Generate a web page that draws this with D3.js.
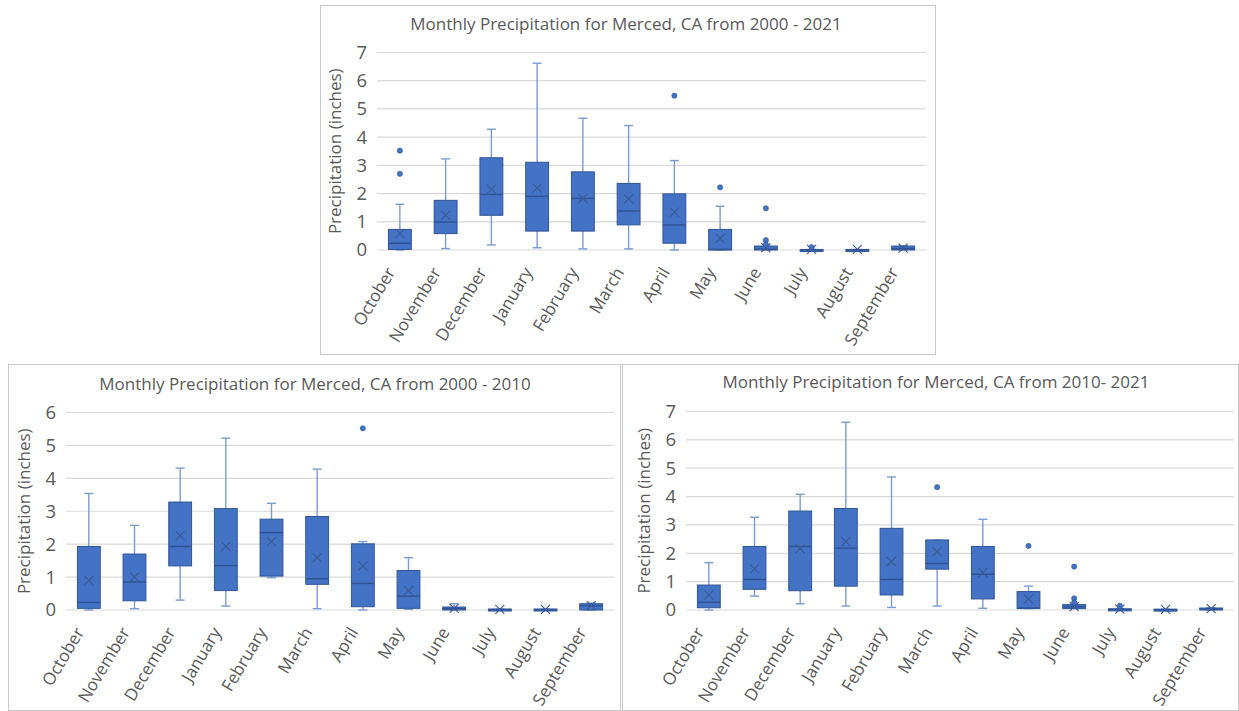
<!DOCTYPE html>
<html>
<head>
<meta charset="utf-8">
<script src="https://cdn.jsdelivr.net/npm/d3@7"></script>
<style>
  body { margin: 0; background: #fff; }
  text { font-family: "Open Sans", sans-serif; fill: #595959; }
</style>
</head>
<body>
<svg id="chart" width="1239" height="711"></svg>
<script>
const months = ["October", "November", "December", "January", "February", "March",
                "April", "May", "June", "July", "August", "September"];

// each row: [lower whisker, q1, median, q3, upper whisker, mean]
const stats_2000_2021 = [
  [0, 0.02, 0.24, 0.73, 1.62, 0.59],
  [0.05, 0.58, 0.99, 1.76, 3.23, 1.24],
  [0.18, 1.23, 1.97, 3.27, 4.28, 2.15],
  [0.08, 0.67, 1.90, 3.11, 6.62, 2.19],
  [0.04, 0.67, 1.83, 2.77, 4.67, 1.83],
  [0.04, 0.89, 1.38, 2.36, 4.41, 1.81],
  [0, 0.24, 0.89, 1.99, 3.17, 1.34],
  [0, 0, 0.02, 0.73, 1.55, 0.41],
  [0, 0, 0.03, 0.14, 0.14, 0.08],
  [0, 0, 0, 0.02, 0.02, 0.02],
  [0, 0, 0, 0.02, 0.02, 0.02],
  [0, 0, 0.05, 0.14, 0.15, 0.07]
];
const outliers_2000_2021 = [[2.7, 3.52], [], [], [], [], [], [5.47], [2.22], [1.48, 0.35, 0.2], [0.1], [], []];

const stats_2000_2010 = [
  [0, 0.05, 0.23, 1.93, 3.54, 0.90],
  [0.04, 0.28, 0.85, 1.70, 2.57, 1.00],
  [0.30, 1.34, 1.93, 3.28, 4.31, 2.26],
  [0.12, 0.59, 1.35, 3.08, 5.22, 1.93],
  [0.98, 1.03, 2.35, 2.76, 3.24, 2.08],
  [0.04, 0.78, 0.95, 2.84, 4.28, 1.59],
  [0, 0.10, 0.81, 2.01, 2.08, 1.34],
  [0.02, 0.05, 0.42, 1.20, 1.59, 0.59],
  [0, 0, 0.04, 0.09, 0.19, 0.05],
  [0, 0, 0.01, 0.03, 0.03, 0.02],
  [0, 0, 0.01, 0.03, 0.03, 0.02],
  [0, 0, 0.13, 0.19, 0.21, 0.13]
];
const outliers_2000_2010 = [[], [], [], [], [], [], [5.52], [], [], [], [], []];

const stats_2010_2021 = [
  [0, 0.08, 0.27, 0.88, 1.67, 0.53],
  [0.49, 0.73, 1.08, 2.24, 3.27, 1.45],
  [0.22, 0.68, 2.24, 3.49, 4.08, 2.16],
  [0.14, 0.84, 2.18, 3.58, 6.62, 2.41],
  [0.09, 0.53, 1.08, 2.88, 4.69, 1.71],
  [0.14, 1.44, 1.64, 2.47, 2.47, 2.06],
  [0.06, 0.39, 1.26, 2.24, 3.20, 1.33],
  [0.05, 0.05, 0.07, 0.65, 0.84, 0.38],
  [0.05, 0.05, 0.11, 0.19, 0.19, 0.12],
  [0, 0, 0.02, 0.04, 0.04, 0.03],
  [0, 0, 0.01, 0.03, 0.03, 0.02],
  [0, 0, 0.03, 0.07, 0.08, 0.05]
];
const outliers_2010_2021 = [[], [], [], [], [], [4.33], [], [2.26], [1.53, 0.41, 0.27], [0.15], [], []];

const blue = "#4472C4", dark = "#2F5597", whiskerColor = "#7B9BD3";

const svg = d3.select("#chart");

function drawPanel(cfg) {
  const g = svg.append("g");
  g.append("rect")
    .attr("x", cfg.frame[0] + 0.5).attr("y", cfg.frame[1] + 0.5)
    .attr("width", cfg.frame[2]).attr("height", cfg.frame[3])
    .attr("fill", "#fff").attr("stroke", "#c8c8c8");

  g.append("text")
    .attr("x", cfg.titleX).attr("y", cfg.titleY)
    .attr("text-anchor", "middle")
    .style("font-size", "17px")
    .text(cfg.title);

  const x = d3.scaleBand().domain(months).range([cfg.left, cfg.right]);
  const y = d3.scaleLinear().domain([0, cfg.yMax]).range([cfg.bottom, cfg.top]);

  // gridlines
  g.append("g").selectAll("line")
    .data(y.ticks(cfg.yMax))
    .join("line")
    .attr("x1", cfg.left).attr("x2", cfg.right)
    .attr("y1", d => y(d)).attr("y2", d => y(d))
    .attr("stroke", "#d9d9d9").attr("stroke-width", 1.2);

  // y axis labels
  const yAxis = g.append("g")
    .attr("transform", `translate(${cfg.left},0)`)
    .call(d3.axisLeft(y).ticks(cfg.yMax).tickSize(0).tickPadding(10).tickFormat(d3.format("d")));
  yAxis.select(".domain").remove();
  yAxis.selectAll("text").style("font-size", "18.5px").attr("fill", "#595959");

  // x axis labels
  const xAxis = g.append("g")
    .attr("transform", `translate(0,${cfg.bottom})`)
    .call(d3.axisBottom(x).tickSize(0).tickPadding(0));
  xAxis.select(".domain").remove();
  xAxis.selectAll("text")
    .style("font-size", "17px").attr("fill", "#595959")
    .attr("text-anchor", "end")
    .attr("dy", 0)
    .attr("transform", "translate(-4,22) rotate(-59)");

  g.append("text")
    .attr("transform", `translate(${cfg.left - 36},${(cfg.top + cfg.bottom) / 2}) rotate(-90)`)
    .attr("text-anchor", "middle")
    .style("font-size", "17px")
    .text("Precipitation (inches)");

  const bw = x.bandwidth() * 0.5;
  const capW = 9;
  const boxes = g.append("g").selectAll("g")
    .data(cfg.stats.map((s, i) => ({ m: months[i], s: s, out: cfg.outliers[i] })))
    .join("g")
    .attr("transform", d => `translate(${x(d.m) + x.bandwidth() / 2},0)`);

  // whiskers
  boxes.append("line")
    .attr("y1", d => y(d.s[3])).attr("y2", d => y(d.s[4]))
    .attr("stroke", whiskerColor).attr("stroke-width", 1.4);
  boxes.append("line")
    .attr("y1", d => y(d.s[1])).attr("y2", d => y(d.s[0]))
    .attr("stroke", whiskerColor).attr("stroke-width", 1.4);
  boxes.append("line")
    .attr("x1", -capW / 2).attr("x2", capW / 2)
    .attr("y1", d => y(d.s[4])).attr("y2", d => y(d.s[4]))
    .attr("stroke", whiskerColor).attr("stroke-width", 1.4);
  boxes.append("line")
    .attr("x1", -capW / 2).attr("x2", capW / 2)
    .attr("y1", d => y(d.s[0])).attr("y2", d => y(d.s[0]))
    .attr("stroke", whiskerColor).attr("stroke-width", 1.4);

  // box
  boxes.append("rect")
    .attr("x", -bw / 2).attr("width", bw)
    .attr("y", d => y(d.s[3]))
    .attr("height", d => Math.max(2, y(d.s[1]) - y(d.s[3])))
    .attr("fill", blue).attr("stroke", dark).attr("stroke-width", 1);

  // median
  boxes.append("line")
    .attr("x1", -bw / 2).attr("x2", bw / 2)
    .attr("y1", d => y(d.s[2])).attr("y2", d => y(d.s[2]))
    .attr("stroke", dark).attr("stroke-width", 1.5);

  // mean marker
  const mx = 4.5;
  boxes.append("path")
    .attr("d", d => {
      const cy = y(d.s[5]);
      return `M${-mx},${cy - mx}L${mx},${cy + mx}M${mx},${cy - mx}L${-mx},${cy + mx}`;
    })
    .attr("stroke", "#3A5A94").attr("stroke-width", 1.1).attr("fill", "none");

  // outliers
  boxes.selectAll("circle")
    .data(d => d.out)
    .join("circle")
    .attr("r", 2.6)
    .attr("cy", v => y(v))
    .attr("fill", blue).attr("stroke", dark).attr("stroke-width", 0.6);
}

drawPanel({
  frame: [320, 5, 615, 349],
  title: "Monthly Precipitation for Merced, CA from 2000 - 2021",
  titleX: 626, titleY: 30,
  left: 377, right: 926, top: 52.5, bottom: 250,
  yMax: 7, stats: stats_2000_2021, outliers: outliers_2000_2021
});

drawPanel({
  frame: [8, 364, 612, 346],
  title: "Monthly Precipitation for Merced, CA from 2000 - 2010",
  titleX: 315, titleY: 390,
  left: 66, right: 614, top: 412.5, bottom: 610,
  yMax: 6, stats: stats_2000_2010, outliers: outliers_2000_2010
});

drawPanel({
  frame: [622, 364, 616, 346],
  title: "Monthly Precipitation for Merced, CA from 2010- 2021",
  titleX: 936, titleY: 388,
  left: 686, right: 1234, top: 411.5, bottom: 610,
  yMax: 7, stats: stats_2010_2021, outliers: outliers_2010_2021
});
</script>
</body>
</html>
